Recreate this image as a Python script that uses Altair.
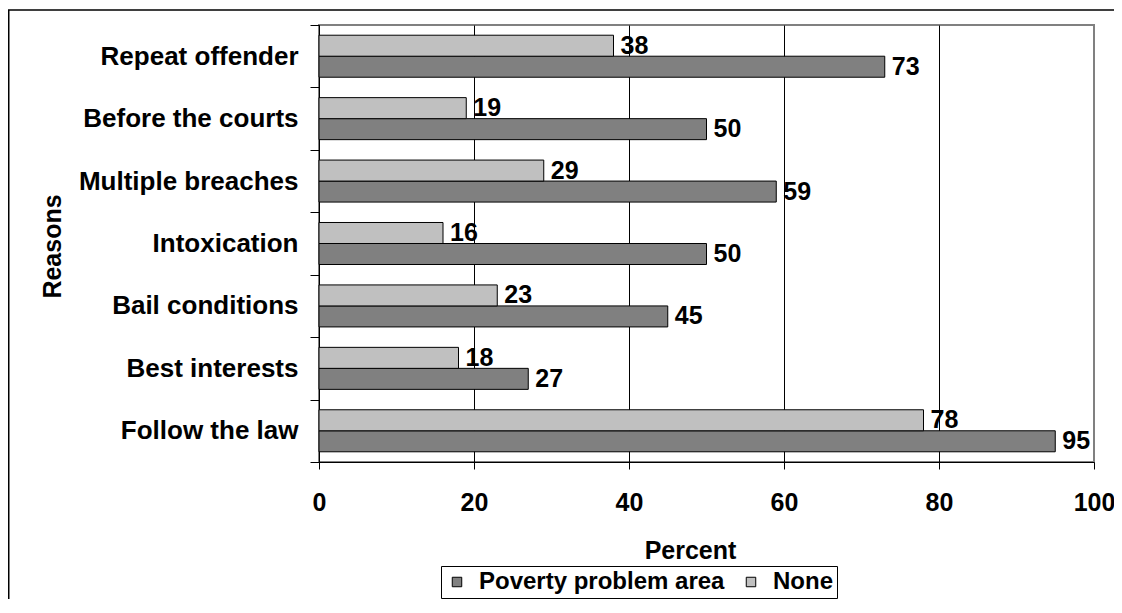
import altair as alt
import pandas as pd

reasons = ["Repeat offender", "Before the courts", "Multiple breaches", "Intoxication",
           "Bail conditions", "Best interests", "Follow the law"]
none_vals = [38, 19, 29, 16, 23, 18, 78]
poverty_vals = [73, 50, 59, 50, 45, 27, 95]
series = ["Poverty problem area", "None"]
series_colors = ["#808080", "#C0C0C0"]
x_ticks = [0, 20, 40, 60, 80, 100]

rows = []
for r, p, n in zip(reasons, poverty_vals, none_vals):
    rows.append({"reason": r, "series": "Poverty problem area", "value": p})
    rows.append({"reason": r, "series": "None", "value": n})
df = pd.DataFrame(rows)

FONT = "Liberation Sans"
W, H = 775, 437
LEFT, TOP = 311, 17
TOTAL_W, TOTAL_H = 1106, 591

x_enc = alt.X(
    "value:Q",
    scale=alt.Scale(domain=[0, 100], nice=False),
    axis=alt.Axis(
        values=x_ticks, title="Percent", labelFontSize=25, labelFont=FONT,
        labelFontWeight="bold", labelColor="black", labelPadding=21, labelFlush=False,
        tickSize=7, tickColor="black", domainColor="black",
        grid=True,
        gridColor={"condition": {"test": "datum.value === 100", "value": "#808080"}, "value": "black"},
        gridWidth=1,
        titleFontSize=25, titleFont=FONT, titleFontWeight="bold", titleColor="black",
        titleX=371, titleY=96, titleBaseline="alphabetic", titleAlign="center",
    ),
)
y_enc = alt.Y(
    "reason:N", sort=reasons,
    scale=alt.Scale(paddingInner=0, paddingOuter=0),
    axis=alt.Axis(
        title="Reasons", tickBand="extent", grid=False,
        labelFontSize=26, labelFont=FONT, labelFontWeight="bold", labelColor="black",
        labelPadding=12, labelLimit=400, tickSize=9, tickColor="black", domainColor="black",
        titleFontSize=25, titleFont=FONT, titleFontWeight="bold", titleColor="black",
        titleAngle=270, titleX=-259, titleY=221, titleBaseline="alphabetic", titleAlign="center",
    ),
)
yoff_enc = alt.YOffset("series:N", sort=["None", "Poverty problem area"],
                       scale=alt.Scale(paddingInner=0, paddingOuter=0.486))

color_enc = alt.Color(
    "series:N",
    scale=alt.Scale(domain=series, range=series_colors),
    legend=alt.Legend(
        orient="none", legendX=122, legendY=541, direction="horizontal", title=None,
        strokeColor="black", fillColor="white", padding=4,
        labelFontSize=24, labelFont=FONT, labelFontWeight="bold", labelColor="black",
        labelLimit=500,
        symbolType="square", symbolSize=90, symbolStrokeColor="black", symbolStrokeWidth=1,
        symbolOpacity=1, labelOffset=10, columnPadding=14,
    ),
)

bars = alt.Chart(df).mark_bar(stroke="black", strokeWidth=1, opacity=1).encode(
    x=x_enc, y=y_enc, yOffset=yoff_enc, color=color_enc
)
labels = alt.Chart(df).mark_text(
    align="left", baseline="middle", dx=7, fontSize=25, font=FONT, fontWeight="bold", color="black"
).encode(
    x="value:Q", y=alt.Y("reason:N", sort=reasons), yOffset=yoff_enc, text="value:Q"
)
frame = alt.Chart(alt.Data(values=[{"a": 1}])).mark_rect(
    fillOpacity=0, stroke="black", strokeWidth=1.5
).encode(
    x=alt.value(-LEFT + 0.75), x2=alt.value(900), y=alt.value(-15), y2=alt.value(800)
)

chart = alt.layer(frame, bars, labels).properties(
    width=W, height=H,
    autosize=alt.AutoSizeParams(type="none"),
    padding={"left": LEFT, "top": TOP, "right": TOTAL_W - LEFT - W, "bottom": TOTAL_H - TOP - H},
    background="white",
).configure_view(stroke="#808080", strokeWidth=2)

chart.save("out.html", embed_options={"renderer": "svg", "actions": False})
